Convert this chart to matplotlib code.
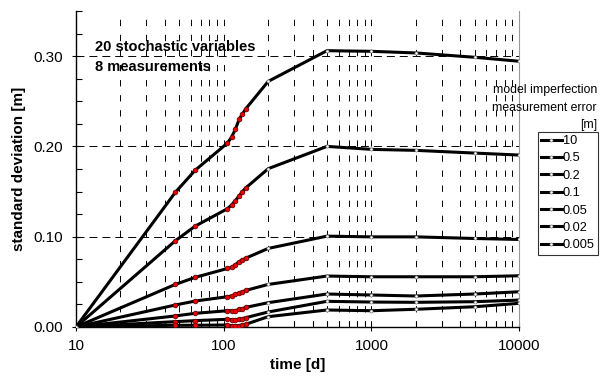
import matplotlib
matplotlib.use("Agg")
import matplotlib.pyplot as plt
from matplotlib.lines import Line2D
from matplotlib.ticker import LogLocator, MultipleLocator, NullFormatter, FixedLocator

plt.rcParams["font.family"] = ["Liberation Sans", "DejaVu Sans"]

# time points [d]
times = [10, 47, 64, 106, 113, 120, 127, 134, 141, 200, 500, 1000, 2000, 5000, 10000]
# indices of measurement times (red dots)
meas_idx = [1, 2, 3, 4, 5, 6, 7, 8]

labels = ["10", "0.5", "0.2", "0.1", "0.05", "0.02", "0.005"]
sd_10 = [0, 0.149, 0.1735, 0.2037, 0.2103, 0.219, 0.2298, 0.236, 0.2416, 0.272, 0.306, 0.3053, 0.3035, 0.2987, 0.2943]
sd_05 = [0, 0.0954, 0.1116, 0.131, 0.135, 0.140, 0.145, 0.150, 0.154, 0.1753, 0.200, 0.1967, 0.1956, 0.1926, 0.1904]
sd_02 = [0, 0.0471, 0.0549, 0.0648, 0.066, 0.0689, 0.0722, 0.0744, 0.0762, 0.087, 0.1006, 0.0998, 0.0998, 0.098, 0.0969]
sd_01 = [0, 0.0243, 0.0287, 0.0335, 0.0343, 0.0361, 0.0376, 0.039, 0.0405, 0.0471, 0.0564, 0.0556, 0.0556, 0.0556, 0.0567]
sd_005 = [0, 0.0122, 0.0151, 0.018, 0.018, 0.018, 0.0195, 0.0203, 0.0217, 0.0269, 0.0365, 0.0354, 0.0343, 0.0365, 0.039]
sd_002 = [0, 0.0059, 0.007, 0.0085, 0.008, 0.008, 0.0085, 0.0092, 0.0103, 0.0166, 0.0284, 0.0276, 0.0273, 0.028, 0.0298]
sd_0005 = [0, 0.0019, 0.0019, 0.0022, 0.0015, 0.0015, 0.0015, 0.0022, 0.003, 0.0114, 0.0188, 0.018, 0.0196, 0.0224, 0.0262]
series = [sd_10, sd_05, sd_02, sd_01, sd_005, sd_002, sd_0005]

fig = plt.figure(figsize=(6.03, 3.78), dpi=100)
ax = fig.add_axes([0.126, 0.135, 0.735, 0.836])

for vals in series:
	ax.plot(times, vals, color="black", linewidth=2.2, marker="o", markersize=2.2,
		markerfacecolor="white", markeredgecolor="#777777", markeredgewidth=0.5, zorder=3)
	ax.plot([times[i] for i in meas_idx], [vals[i] for i in meas_idx], linestyle="none",
		marker="o", markersize=3.4, markerfacecolor="#ee0000", markeredgecolor="#550000",
		markeredgewidth=0.5, zorder=4)

ax.set_xscale("log")
ax.set_xlim(10, 10000)
ax.set_ylim(0, 0.35)
ax.xaxis.set_major_locator(FixedLocator([10, 100, 1000, 10000]))
ax.xaxis.set_minor_locator(LogLocator(base=10, subs=range(2, 10)))
ax.xaxis.set_minor_formatter(NullFormatter())
ax.set_xticklabels(["10", "100", "1000", "10000"])
ax.yaxis.set_major_locator(MultipleLocator(0.1))
ax.yaxis.set_minor_locator(MultipleLocator(0.025))
ax.yaxis.set_major_formatter(plt.FuncFormatter(lambda v, p: f"{v:.2f}"))

ax.grid(which="both", axis="x", color="black", linestyle=(0, (6.5, 9)), linewidth=0.7, zorder=1)
ax.grid(which="major", axis="y", color="black", linestyle=(0, (8.2, 5.1)), linewidth=0.7, zorder=1)
ax.set_axisbelow(True)

ax.tick_params(which="major", direction="inout", length=6, width=0.8, labelsize=11, pad=6)
ax.tick_params(which="minor", direction="in", length=4, width=0.8)

ax.spines["top"].set_visible(False)
ax.spines["right"].set_color("#999999")
ax.spines["left"].set_linewidth(1.0)
ax.spines["bottom"].set_linewidth(1.0)

ax.set_xlabel("time [d]", fontsize=11, fontweight="bold", labelpad=3)
ax.set_ylabel("standard deviation [m]", fontsize=11, fontweight="bold", labelpad=6)

ax.text(0.043, 0.886, "20 stochastic variables", transform=ax.transAxes,
	fontsize=10.5, fontweight="bold", va="center", ha="left")
ax.text(0.043, 0.823, "8 measurements", transform=ax.transAxes,
	fontsize=10.5, fontweight="bold", va="center", ha="left")

# legend title, one line at a time
fig.text(0.99, 0.762, "model imperfection", ha="right", va="center", fontsize=8.8)
fig.text(0.99, 0.714, "measurement error", ha="right", va="center", fontsize=8.8)
fig.text(0.99, 0.668, "[m]", ha="right", va="center", fontsize=8.8)

handles = [Line2D([], [], color="black", linewidth=2.2, marker="o", markersize=2.2,
	markerfacecolor="white", markeredgecolor="#777777", markeredgewidth=0.5) for _ in labels]
leg = fig.legend(handles, labels, loc="upper left", bbox_to_anchor=(0.892, 0.651),
	fontsize=9.2, frameon=True, fancybox=False, handlelength=1.6, handletextpad=0.1,
	borderpad=0.25, labelspacing=0.42, borderaxespad=0)
leg.get_frame().set_edgecolor("black")
leg.get_frame().set_linewidth(0.8)

fig.savefig("out.png", dpi=100)
